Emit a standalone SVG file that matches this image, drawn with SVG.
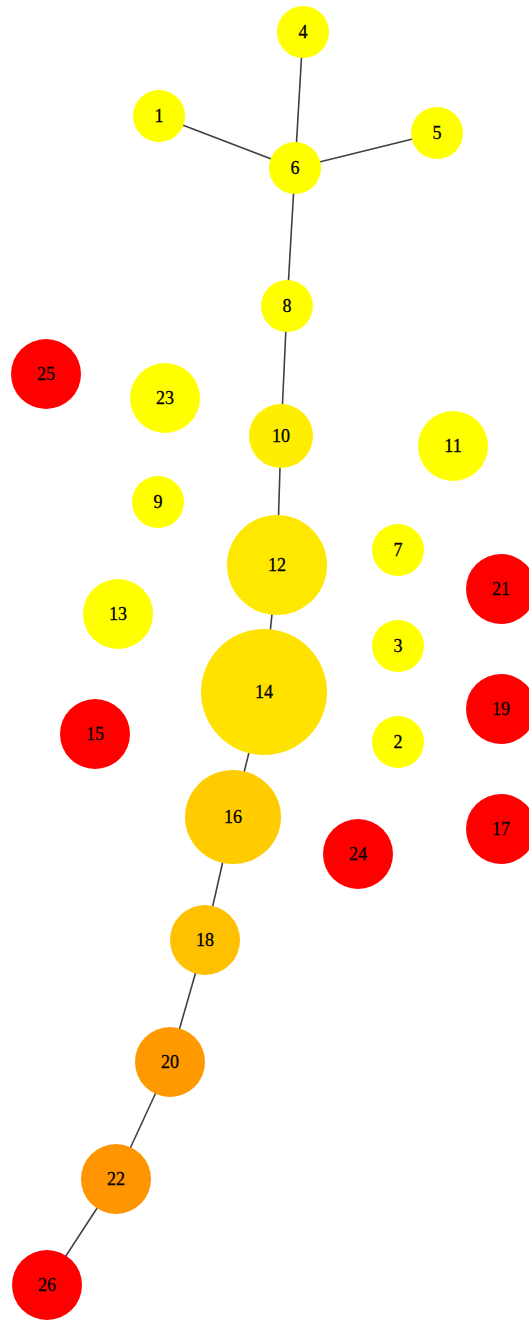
<svg xmlns="http://www.w3.org/2000/svg" width="529" height="1320" viewBox="0 0 529 1320">
<style>
.e{stroke:#404040;stroke-width:1.6;fill:none}
text{font-family:"Liberation Serif","Times New Roman",serif;font-size:18px;fill:#000;stroke:#000;stroke-width:0.3;text-anchor:middle;dominant-baseline:central}
.y{fill:#FFFF00}.r{fill:#FF0000}
</style>
<rect width="529" height="1320" fill="#fff"/>
<g id="edges">
<line class="e" x1="303" y1="32" x2="295" y2="168"/>
<line class="e" x1="159" y1="116" x2="295" y2="168"/>
<line class="e" x1="437" y1="133" x2="295" y2="168"/>
<line class="e" x1="295" y1="168" x2="287" y2="306"/>
<line class="e" x1="287" y1="306" x2="281" y2="436"/>
<line class="e" x1="281" y1="436" x2="277" y2="565"/>
<line class="e" x1="277" y1="565" x2="264" y2="692"/>
<line class="e" x1="264" y1="692" x2="233" y2="817"/>
<line class="e" x1="233" y1="817" x2="205" y2="940"/>
<line class="e" x1="205" y1="940" x2="170" y2="1062"/>
<line class="e" x1="170" y1="1062" x2="116" y2="1179"/>
<line class="e" x1="116" y1="1179" x2="47" y2="1285"/>
</g>
<g id="n4"><circle class="y" cx="303" cy="32" r="26"/><text x="303" y="32">4</text></g>
<g id="n1"><circle class="y" cx="159" cy="116" r="26"/><text x="159" y="116">1</text></g>
<g id="n5"><circle class="y" cx="437" cy="133" r="26"/><text x="437" y="133">5</text></g>
<g id="n6"><circle class="y" cx="295" cy="168" r="26"/><text x="295" y="168">6</text></g>
<g id="n8"><circle class="y" cx="287" cy="306" r="26"/><text x="287" y="306">8</text></g>
<g id="n25"><circle class="r" cx="46" cy="374" r="35"/><text x="46" y="374">25</text></g>
<g id="n23"><circle class="y" cx="165" cy="398" r="35"/><text x="165" y="398">23</text></g>
<g id="n10"><circle fill="#FFEE00" cx="281" cy="436" r="32"/><text x="281" y="436">10</text></g>
<g id="n11"><circle class="y" cx="453" cy="446" r="35"/><text x="453" y="446">11</text></g>
<g id="n9"><circle class="y" cx="158" cy="502" r="26"/><text x="158" y="502">9</text></g>
<g id="n12"><circle fill="#FFE800" cx="277" cy="565" r="50"/><text x="277" y="565">12</text></g>
<g id="n7"><circle class="y" cx="398" cy="550" r="26"/><text x="398" y="550">7</text></g>
<g id="n21"><circle class="r" cx="501" cy="589" r="35"/><text x="501" y="589">21</text></g>
<g id="n13"><circle class="y" cx="118" cy="614" r="35"/><text x="118" y="614">13</text></g>
<g id="n3"><circle class="y" cx="398" cy="646" r="26"/><text x="398" y="646">3</text></g>
<g id="n14"><circle fill="#FFE200" cx="264" cy="692" r="63"/><text x="264" y="692">14</text></g>
<g id="n15"><circle class="r" cx="95" cy="734" r="35"/><text x="95" y="734">15</text></g>
<g id="n19"><circle class="r" cx="501" cy="709" r="35"/><text x="501" y="709">19</text></g>
<g id="n2"><circle class="y" cx="398" cy="742" r="26"/><text x="398" y="742">2</text></g>
<g id="n16"><ellipse fill="#FFCC00" cx="233" cy="817" rx="48" ry="47"/><text x="233" y="817">16</text></g>
<g id="n24"><circle class="r" cx="358" cy="854" r="35"/><text x="358" y="854">24</text></g>
<g id="n17"><circle class="r" cx="501" cy="829" r="35"/><text x="501" y="829">17</text></g>
<g id="n18"><circle fill="#FFC000" cx="205" cy="940" r="35"/><text x="205" y="940">18</text></g>
<g id="n20"><circle fill="#FF9900" cx="170" cy="1062" r="35"/><text x="170" y="1062">20</text></g>
<g id="n22"><circle fill="#FF9500" cx="116" cy="1179" r="35"/><text x="116" y="1179">22</text></g>
<g id="n26"><circle class="r" cx="47" cy="1285" r="35"/><text x="47" y="1285">26</text></g>
</svg>
